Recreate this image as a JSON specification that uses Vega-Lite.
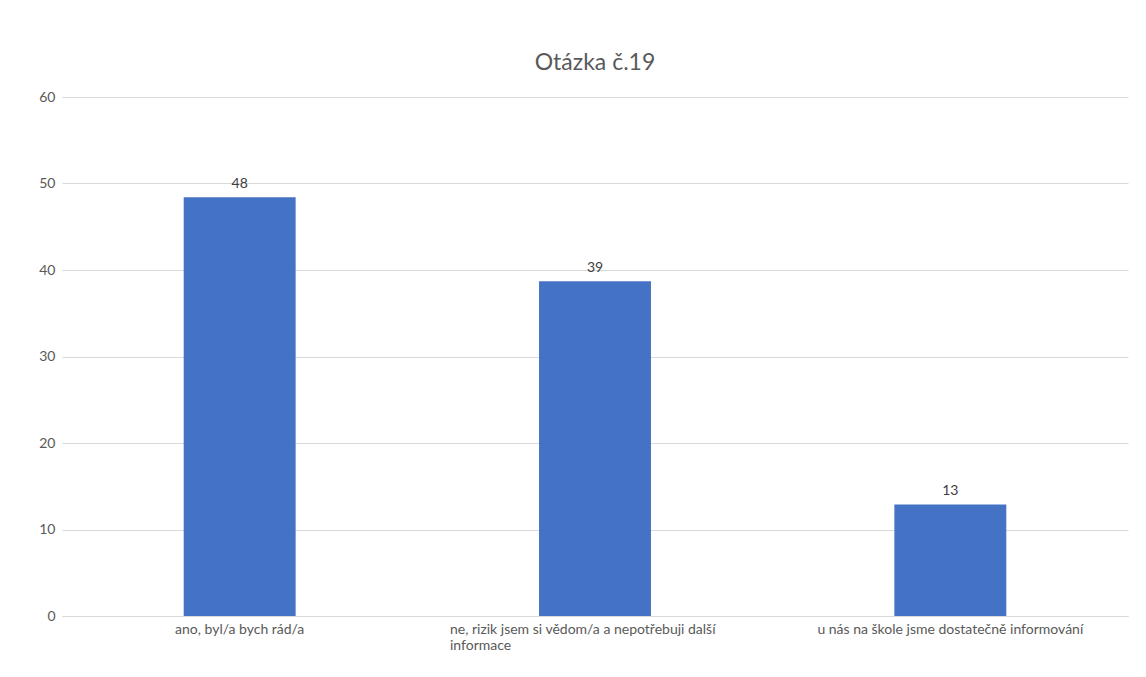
{
  "$schema": "https://vega.github.io/schema/vega-lite/v6.json",
  "autosize": "none",
  "width": 1066,
  "height": 519,
  "padding": {"left": 62, "top": 97, "right": 18, "bottom": 61},
  "background": "white",
  "title": {"text": "Otázka č.19", "font": "Lato", "fontSize": 23, "fontWeight": "normal", "color": "#595959", "offset": 15, "anchor": "middle"},
  "config": {"view": {"stroke": null}, "font": "Lato"},
  "data": {"values": [
    {"odpoved": "ano, byl/a bych rád/a", "hodnota": 48.4},
    {"odpoved": "ne, rizik jsem si vědom/a a nepotřebuji další informace", "hodnota": 38.7},
    {"odpoved": "u nás na škole jsme dostatečně informování", "hodnota": 12.9}
  ]},
  "encoding": {
    "x": {"field": "odpoved", "type": "nominal", "sort": null,
      "scale": {"paddingInner": 0.685, "paddingOuter": 0.3425},
      "axis": {"title": null, "labelAngle": 0, "labelFontSize": 14, "labelColor": "#595959", "labelFont": "Lato",
        "ticks": false, "domainColor": "#d9d9d9", "labelPadding": 6, "labelLimit": 400,
        "labelExpr": "datum.value == 'ne, rizik jsem si vědom/a a nepotřebuji další informace' ? ['ne, rizik jsem si vědom/a a nepotřebuji další', 'informace'] : datum.value",
        "labelAlign": {"condition": {"test": "indexof(datum.value, 'rizik') >= 0", "value": "left"}, "value": "center"},
        "labelOffset": {"condition": {"test": "indexof(datum.value, 'rizik') >= 0", "value": -145}, "value": 0}}},
    "y": {"field": "hodnota", "type": "quantitative",
      "scale": {"domain": [0, 60]},
      "axis": {"title": null, "values": [0, 10, 20, 30, 40, 50, 60], "labelFontSize": 14, "labelColor": "#595959", "labelFont": "Lato",
        "ticks": false, "domain": false, "gridColor": "#d9d9d9", "labelPadding": 7}}
  },
  "layer": [
    {"mark": {"type": "bar", "color": "#4472C4"}},
    {"mark": {"type": "text", "dy": -13, "fontSize": 14, "color": "#404040", "font": "Lato"},
     "encoding": {"text": {"field": "hodnota", "type": "quantitative", "format": ".0f"}}}
  ]
}
